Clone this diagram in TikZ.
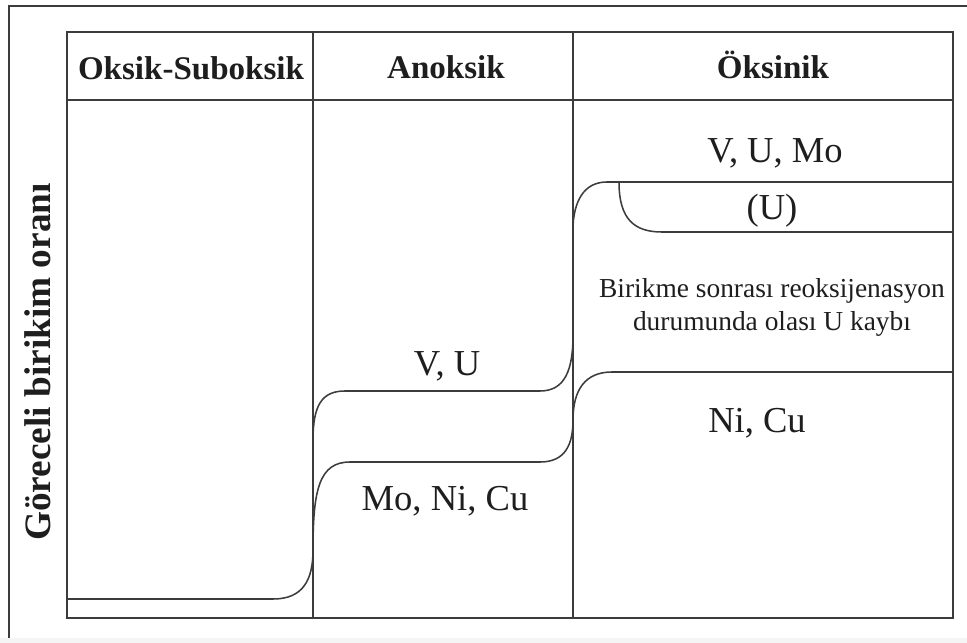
\documentclass[tikz,border=0pt]{standalone}
\usepackage{fontspec}
\setmainfont{Liberation Serif}
\definecolor{ink}{HTML}{3C3C3C}
\definecolor{txt}{HTML}{1E1E1E}
\tikzset{grid/.style={draw=ink,line width=1.3pt},
         curve/.style={draw=ink,line width=1.1pt},
         head/.style={anchor=base,text=txt,font=\fontsize{23.5}{28}\selectfont\bfseries},
         elem/.style={anchor=base,text=txt,font=\fontsize{26}{30}\selectfont},
         note/.style={align=center,text=txt,font=\fontsize{19.5}{23.5}\selectfont},
         ylab/.style={anchor=base,rotate=90,text=txt,font=\fontsize{26.5}{30}\selectfont\bfseries}}

\begin{document}
\begin{tikzpicture}[x=0.025cm,y=-0.025cm]
\useasboundingbox (0,0) rectangle (967,643);
\fill[black!4] (0,638) rectangle (967,643);
% outer frame
\draw[grid] (967,6) -- (9,6) -- (9,638);
% table
\draw[grid] (67,32) rectangle (953,618);
\draw[grid] (67,100) -- (953,100);
\draw[grid] (313,32) -- (313,618);
\draw[grid] (573,32) -- (573,618);
% headers
\node[head] (oks) at (191,80) {Oksik-Suboksik};
\node[head] (ano) at (446,79) {Anoksik};
\node[head] (oek) at (773,79) {Öksinik};
\node[ylab] (ylab) at (50,362) {Göreceli birikim oranı};
% steps
\draw[curve] (67,599) -- (273,599) .. controls (303,599) and (313,580) .. (313,550)
  .. controls (313,490) and (319,462) .. (350,462) -- (540,462)
  .. controls (565,462) and (573,445) .. (573,420)
  .. controls (573,390) and (585,372) .. (612,372) -- (953,372);
\draw[curve] (313,440) .. controls (313,405) and (322,391) .. (345,391) -- (540,391)
  .. controls (565,391) and (573,370) .. (573,335) -- (573,225)
  .. controls (575,195) and (588,182) .. (607,182) -- (953,182);
\draw[curve] (619,182) .. controls (619,220) and (635,232) .. (662,232) -- (953,232);
% labels
\node[elem] (vumo) at (775,163) {V, U, Mo};
\node[elem] (u) at (772,220) {(U)};
\node[note] (loss) at (772,307) {Birikme sonrası reoksijenasyon\\durumunda olası U kaybı};
\node[elem] (nicu) at (757,432) {Ni, Cu};
\node[elem] (vu) at (447,375) {V, U};
\node[elem] (moni) at (445,510) {Mo, Ni, Cu};
\end{tikzpicture}
\end{document}
